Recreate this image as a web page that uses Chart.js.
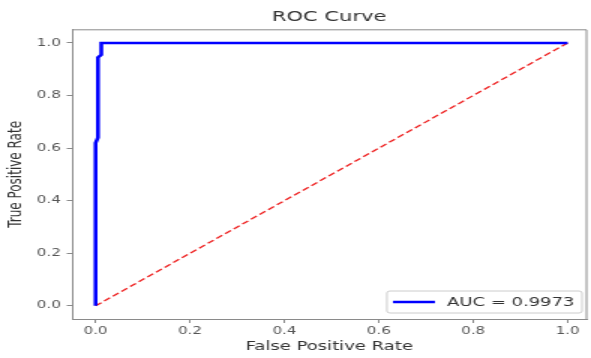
<!DOCTYPE html>
<html lang="en">
<head>
  <meta charset="UTF-8">
  <title>ROC Curve</title>
  <script src="https://cdn.jsdelivr.net/npm/chart.js"></script>
  <style>
    html, body { margin: 0; padding: 0; background: #fff; overflow: hidden; }
    /* the reference is stretched sideways, so draw narrow and widen with CSS */
    #roc { display: block; width: 591px; height: 358px; }
  </style>
</head>
<body>
  <canvas id="roc" width="394" height="358" style="width:591px;height:358px"></canvas>

  <script>
    // ROC points
    const fpr = [0, 0, 0.005, 0.005, 0.012, 0.012, 1];
    const tpr = [0, 0.62, 0.64, 0.945, 0.955, 1, 1];
    const chanceX = [0, 1];
    const chanceY = [0, 1];
    const aucLabel = 'AUC = 0.9973';
    const xTicks = [0, 0.2, 0.4, 0.6, 0.8, 1.0];
    const yTicks = [0, 0.2, 0.4, 0.6, 0.8, 1.0];

    const FONT = "'DejaVu Sans', sans-serif";
    const SPINE = '#8a8a8a';

    const toPoints = (xs, ys) => xs.map((x, i) => ({ x: x, y: ys[i] }));

    // top/right spines and the in-plot legend box
    const framePlugin = {
      id: 'frame',
      beforeDatasetsDraw(chart) {
        const { ctx, chartArea: a } = chart;
        ctx.save();
        ctx.strokeStyle = SPINE;
        ctx.lineWidth = 1;
        ctx.beginPath();
        ctx.moveTo(a.left, a.top);
        ctx.lineTo(a.right, a.top);
        ctx.lineTo(a.right, a.bottom);
        ctx.stroke();
        ctx.restore();
      },
      afterDatasetsDraw(chart) {
        const { ctx, chartArea: a } = chart;
        const ds = chart.data.datasets[0];
        ctx.save();
        ctx.font = '12px ' + FONT;
        const tw = ctx.measureText(ds.label).width;
        const w = 4 + 28 + 8 + tw + 5;
        const h = 22;
        const x = a.right - 3 - w;
        const y = a.bottom - 6 - h;
        ctx.fillStyle = 'rgba(255,255,255,0.8)';
        ctx.strokeStyle = '#cccccc';
        ctx.lineWidth = 1;
        ctx.beginPath();
        ctx.roundRect(x, y, w, h, 2);
        ctx.fill();
        ctx.stroke();
        ctx.strokeStyle = ds.borderColor;
        ctx.lineWidth = 2.5;
        ctx.beginPath();
        ctx.moveTo(x + 4, y + h / 2);
        ctx.lineTo(x + 32, y + h / 2);
        ctx.stroke();
        ctx.fillStyle = '#333';
        ctx.textBaseline = 'middle';
        ctx.textAlign = 'left';
        ctx.fillText(ds.label, x + 40, y + h / 2 + 1);
        ctx.restore();
      }
    };

    new Chart(document.getElementById('roc'), {
      type: 'scatter',
      data: {
        datasets: [{
          label: aucLabel,
          data: toPoints(fpr, tpr),
          showLine: true,
          borderColor: '#0000ff',
          borderWidth: 2.6,
          pointRadius: 0,
          tension: 0
        }, {
          label: 'chance',
          data: toPoints(chanceX, chanceY),
          showLine: true,
          borderColor: '#ee2020',
          borderWidth: 1.3,
          borderDash: [5, 2.5],
          pointRadius: 0,
          tension: 0
        }]
      },
      options: {
        responsive: false,
        animation: false,
        devicePixelRatio: 1,
        layout: { padding: { left: 0, right: 3, top: 0, bottom: 0 } },
        plugins: {
          legend: { display: false },
          tooltip: { enabled: false },
          title: {
            display: true,
            text: 'ROC Curve',
            fullSize: false,
            color: '#333',
            font: { family: FONT, size: 14, weight: 'normal' },
            padding: { top: 9, bottom: 4 }
          }
        },
        scales: {
          x: {
            type: 'linear',
            min: -0.05,
            max: 1.04,
            afterBuildTicks: axis => { axis.ticks = xTicks.map(v => ({ value: v })); },
            afterFit: axis => { axis.height = 39; },
            border: { display: true, color: SPINE, width: 1 },
            grid: { drawOnChartArea: false, drawTicks: true, tickLength: 4, color: SPINE },
            ticks: {
              color: '#555',
              font: { family: FONT, size: 10 },
              padding: 2,
              maxRotation: 0,
              callback: v => v.toFixed(1)
            },
            title: {
              display: true,
              text: 'False Positive Rate',
              color: '#333',
              font: { family: FONT, size: 12 },
              padding: { top: 0, bottom: 4 }
            }
          },
          y: {
            type: 'linear',
            min: -0.05,
            max: 1.05,
            afterBuildTicks: axis => { axis.ticks = yTicks.map(v => ({ value: v })); },
            afterFit: axis => { axis.width = 48; },
            border: { display: true, color: SPINE, width: 1 },
            grid: { drawOnChartArea: false, drawTicks: true, tickLength: 3.5, color: SPINE },
            ticks: {
              color: '#555',
              font: { family: FONT, size: 10 },
              padding: 4,
              callback: v => v.toFixed(1)
            },
            title: {
              display: true,
              text: 'True Positive Rate',
              color: '#333',
              font: { family: FONT, size: 12 },
              padding: { top: 4, bottom: 0 }
            }
          }
        }
      },
      plugins: [framePlugin]
    });
  </script>
</body>
</html>
